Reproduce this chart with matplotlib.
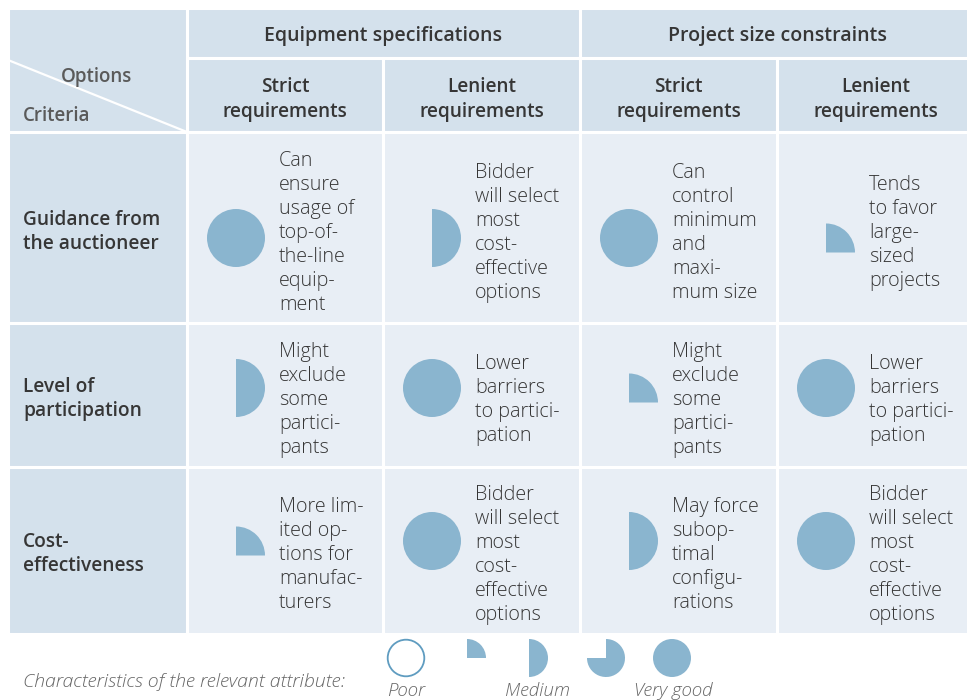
import matplotlib
matplotlib.use("Agg")
import matplotlib.pyplot as plt
from matplotlib.patches import Rectangle, Wedge, Circle

plt.rcParams['font.family'] = ['Open Sans', 'DejaVu Sans']

groups = ['Equipment specifications', 'Project size constraints']
options = ['Strict\nrequirements', 'Lenient\nrequirements',
           'Strict\nrequirements', 'Lenient\nrequirements']
criteria = ['Guidance from\nthe auctioneer', 'Level of\nparticipation', 'Cost-\neffectiveness']

# rating in quarters of a circle (0 = poor ... 4 = very good)
ratings = [[4, 2, 4, 1],
           [2, 4, 1, 4],
           [1, 4, 2, 4]]

notes = [
    ['Can\nensure\nusage of\ntop-of-\nthe-line\nequip-\nment',
     'Bidder\nwill select\nmost\ncost-\neffective\noptions',
     'Can\ncontrol\nminimum\nand\nmaxi-\nmum size',
     'Tends\nto favor\nlarge-\nsized\nprojects'],
    ['Might\nexclude\nsome\npartici-\npants',
     'Lower\nbarriers\nto partici-\npation',
     'Might\nexclude\nsome\npartici-\npants',
     'Lower\nbarriers\nto partici-\npation'],
    ['More lim-\nited op-\ntions for\nmanufac-\nturers',
     'Bidder\nwill select\nmost\ncost-\neffective\noptions',
     'May force\nsubop-\ntimal\nconfigu-\nrations',
     'Bidder\nwill select\nmost\ncost-\neffective\noptions'],
]

legend_levels = [0, 1, 2, 3, 4]
legend_labels = {0: 'Poor', 2: 'Medium', 4: 'Very good'}

HEAD = '#d4e1ec'
CELL = '#e8eef5'
MARK = '#8ab5cf'
TXT = '#363636'

xs = [8, 187, 383, 580, 777, 975]
ys = [8, 58, 132, 323, 467, 634]
mark_y = [238, 388, 541]
text_y = [231, 398, 553]
LH = 24

fig = plt.figure(figsize=(9.67, 7), dpi=100)
ax = fig.add_axes([0, 0, 1, 1])
ax.set_xlim(0, 967)
ax.set_ylim(700, 0)
ax.axis('off')


def rect(x0, x1, y0, y1, c):
    ax.add_patch(Rectangle((x0, y0), x1 - x0, y1 - y0, facecolor=c, edgecolor='white', lw=2.2))


def mark(cx, cy, q, r, shift=True):
    if q == 0:
        ax.add_patch(Circle((cx, cy), r - 0.7, facecolor='white', edgecolor='#5f9cc0', lw=1.3))
    elif q == 4:
        ax.add_patch(Circle((cx, cy), r, facecolor=MARK, edgecolor='none'))
    else:
        # start at screen-top (data angle 270 since y is inverted), go clockwise on screen
        dy = r / 2 if (q == 1 and shift) else 0
        ax.add_patch(Wedge((cx, cy + dy), r, 270, 270 + 90 * q, facecolor=MARK, edgecolor='none'))


def lines(x, yc, s, **kw):
    ls = s.split('\n')
    n = len(ls)
    for i, t in enumerate(ls):
        ax.text(x, yc + (i - (n - 1) / 2) * LH + 7, t, va='baseline', **kw)


# header
rect(xs[0], xs[1], ys[0], ys[2], HEAD)
for g in range(2):
    rect(xs[1 + 2 * g], xs[3 + 2 * g], ys[0], ys[1], HEAD)
    ax.text((xs[1 + 2 * g] + xs[3 + 2 * g]) / 2, 41, groups[g], ha='center', va='baseline',
            fontsize=14, fontweight='semibold', color=TXT)
for j, o in enumerate(options):
    rect(xs[1 + j], xs[2 + j], ys[1], ys[2], HEAD)
    cx = (xs[1 + j] + xs[2 + j]) / 2
    a, b = o.split('\n')
    ax.text(cx, 92, a, ha='center', va='baseline', fontsize=13.7, fontweight='semibold', color=TXT)
    ax.text(cx, 117, b, ha='center', va='baseline', fontsize=13.7, fontweight='semibold', color=TXT)
ax.plot([xs[0], xs[1]], [ys[0] + 52, ys[2]], color='white', lw=1.6)
ax.text(96, 82, 'Options', ha='center', va='baseline', fontsize=13.5, fontweight='semibold', color='#5a5a5a')
ax.text(23, 121, 'Criteria', ha='left', va='baseline', fontsize=13.5, fontweight='semibold', color='#5a5a5a')

# body
for i in range(3):
    rect(xs[0], xs[1], ys[2 + i], ys[3 + i], HEAD)
    lines(23, text_y[i] - 1, criteria[i], fontsize=13.8, fontweight='semibold', color=TXT)
    for j in range(4):
        rect(xs[1 + j], xs[2 + j], ys[2 + i], ys[3 + i], CELL)
        mark(xs[1 + j] + 49, mark_y[i], ratings[i][j], 29)
        lines(xs[1 + j] + 92, text_y[i], notes[i][j], fontsize=14.2, fontweight='light', color=TXT)

# legend
ax.text(23, 687, 'Characteristics of the relevant attribute:', ha='left', va='baseline',
        fontsize=14, fontweight='light', style='italic', color='#666666')
leg_x = [406, 467, 529, 606, 672]
lab_x = {0: 406, 2: 538, 4: 673}
for k, q in enumerate(legend_levels):
    mark(leg_x[k], 658, q, 19, shift=False)
    if q in legend_labels:
        ax.text(lab_x[q], 696, legend_labels[q], ha='center', va='baseline', fontsize=13.5,
                fontweight='light', style='italic', color='#666666')

fig.savefig('out.png', dpi=100)
